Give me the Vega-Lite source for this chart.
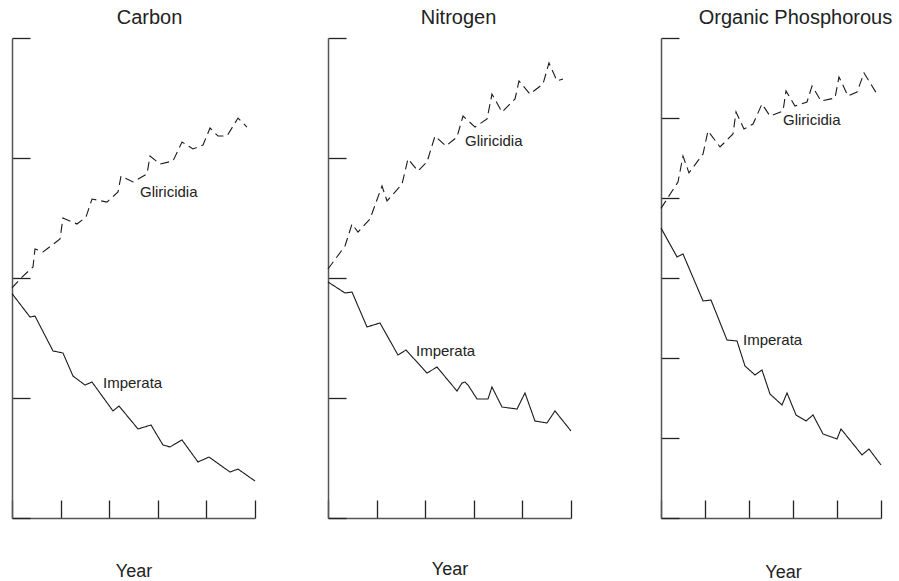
{
  "$schema": "https://vega.github.io/schema/vega-lite/v6.json",
  "background": "white",
  "padding": {"left": 9, "top": 8, "right": 5, "bottom": 5},
  "config": {
    "view": {"stroke": null},
    "font": "Liberation Sans",
    "title": {"fontSize": 20, "fontWeight": "normal", "color": "#222", "baseline": "alphabetic", "offset": 9, "frame": "group", "anchor": "middle"},
    "axis": {"labels": false, "grid": false, "tickSize": -18, "domainColor": "#555", "domainWidth": 1.5, "tickColor": "#222", "tickWidth": 1.3, "titleFontSize": 18, "titleFontWeight": "normal", "titleColor": "#222"}
  },
  "datasets": {
    "series": [
      {"p":"Carbon","s":"Imperata","x":0,"y":1.87},{"p":"Carbon","s":"Imperata","x":0.37,"y":1.675},{"p":"Carbon","s":"Imperata","x":0.473,"y":1.683},{"p":"Carbon","s":"Imperata","x":0.844,"y":1.392},{"p":"Carbon","s":"Imperata","x":1.049,"y":1.375},{"p":"Carbon","s":"Imperata","x":1.255,"y":1.183},{"p":"Carbon","s":"Imperata","x":1.502,"y":1.108},{"p":"Carbon","s":"Imperata","x":1.646,"y":1.133},{"p":"Carbon","s":"Imperata","x":2.078,"y":0.892},{"p":"Carbon","s":"Imperata","x":2.202,"y":0.933},{"p":"Carbon","s":"Imperata","x":2.593,"y":0.742},{"p":"Carbon","s":"Imperata","x":2.86,"y":0.775},{"p":"Carbon","s":"Imperata","x":3.107,"y":0.608},{"p":"Carbon","s":"Imperata","x":3.251,"y":0.592},{"p":"Carbon","s":"Imperata","x":3.498,"y":0.65},{"p":"Carbon","s":"Imperata","x":3.827,"y":0.467},{"p":"Carbon","s":"Imperata","x":4.053,"y":0.508},{"p":"Carbon","s":"Imperata","x":4.486,"y":0.383},{"p":"Carbon","s":"Imperata","x":4.65,"y":0.408},{"p":"Carbon","s":"Imperata","x":5.0,"y":0.308},
      {"p":"Carbon","s":"Gliricidia","x":0,"y":1.917},{"p":"Carbon","s":"Gliricidia","x":0.206,"y":2.008},{"p":"Carbon","s":"Gliricidia","x":0.432,"y":2.092},{"p":"Carbon","s":"Gliricidia","x":0.473,"y":2.242},{"p":"Carbon","s":"Gliricidia","x":0.638,"y":2.217},{"p":"Carbon","s":"Gliricidia","x":0.988,"y":2.325},{"p":"Carbon","s":"Gliricidia","x":1.049,"y":2.5},{"p":"Carbon","s":"Gliricidia","x":1.337,"y":2.45},{"p":"Carbon","s":"Gliricidia","x":1.523,"y":2.508},{"p":"Carbon","s":"Gliricidia","x":1.646,"y":2.658},{"p":"Carbon","s":"Gliricidia","x":1.955,"y":2.633},{"p":"Carbon","s":"Gliricidia","x":2.181,"y":2.717},{"p":"Carbon","s":"Gliricidia","x":2.243,"y":2.85},{"p":"Carbon","s":"Gliricidia","x":2.49,"y":2.8},{"p":"Carbon","s":"Gliricidia","x":2.778,"y":2.867},{"p":"Carbon","s":"Gliricidia","x":2.84,"y":3.017},{"p":"Carbon","s":"Gliricidia","x":3.045,"y":2.95},{"p":"Carbon","s":"Gliricidia","x":3.313,"y":2.975},{"p":"Carbon","s":"Gliricidia","x":3.498,"y":3.133},{"p":"Carbon","s":"Gliricidia","x":3.724,"y":3.075},{"p":"Carbon","s":"Gliricidia","x":3.93,"y":3.108},{"p":"Carbon","s":"Gliricidia","x":4.074,"y":3.25},{"p":"Carbon","s":"Gliricidia","x":4.239,"y":3.183},{"p":"Carbon","s":"Gliricidia","x":4.424,"y":3.183},{"p":"Carbon","s":"Gliricidia","x":4.65,"y":3.333},{"p":"Carbon","s":"Gliricidia","x":4.835,"y":3.258},
      {"p":"Nitrogen","s":"Gliricidia","x":0,"y":2.075},{"p":"Nitrogen","s":"Gliricidia","x":0.35,"y":2.267},{"p":"Nitrogen","s":"Gliricidia","x":0.494,"y":2.45},{"p":"Nitrogen","s":"Gliricidia","x":0.617,"y":2.383},{"p":"Nitrogen","s":"Gliricidia","x":0.864,"y":2.492},{"p":"Nitrogen","s":"Gliricidia","x":1.111,"y":2.767},{"p":"Nitrogen","s":"Gliricidia","x":1.214,"y":2.642},{"p":"Nitrogen","s":"Gliricidia","x":1.523,"y":2.783},{"p":"Nitrogen","s":"Gliricidia","x":1.646,"y":2.992},{"p":"Nitrogen","s":"Gliricidia","x":1.852,"y":2.892},{"p":"Nitrogen","s":"Gliricidia","x":2.037,"y":2.967},{"p":"Nitrogen","s":"Gliricidia","x":2.202,"y":3.183},{"p":"Nitrogen","s":"Gliricidia","x":2.428,"y":3.1},{"p":"Nitrogen","s":"Gliricidia","x":2.654,"y":3.175},{"p":"Nitrogen","s":"Gliricidia","x":2.778,"y":3.35},{"p":"Nitrogen","s":"Gliricidia","x":3.025,"y":3.258},{"p":"Nitrogen","s":"Gliricidia","x":3.272,"y":3.325},{"p":"Nitrogen","s":"Gliricidia","x":3.374,"y":3.533},{"p":"Nitrogen","s":"Gliricidia","x":3.58,"y":3.383},{"p":"Nitrogen","s":"Gliricidia","x":3.848,"y":3.492},{"p":"Nitrogen","s":"Gliricidia","x":3.93,"y":3.642},{"p":"Nitrogen","s":"Gliricidia","x":4.156,"y":3.533},{"p":"Nitrogen","s":"Gliricidia","x":4.424,"y":3.617},{"p":"Nitrogen","s":"Gliricidia","x":4.547,"y":3.792},{"p":"Nitrogen","s":"Gliricidia","x":4.712,"y":3.642},{"p":"Nitrogen","s":"Gliricidia","x":4.835,"y":3.658},
      {"p":"Nitrogen","s":"Imperata","x":0,"y":1.967},{"p":"Nitrogen","s":"Imperata","x":0.35,"y":1.875},{"p":"Nitrogen","s":"Imperata","x":0.494,"y":1.883},{"p":"Nitrogen","s":"Imperata","x":0.802,"y":1.592},{"p":"Nitrogen","s":"Imperata","x":1.07,"y":1.625},{"p":"Nitrogen","s":"Imperata","x":1.44,"y":1.358},{"p":"Nitrogen","s":"Imperata","x":1.605,"y":1.4},{"p":"Nitrogen","s":"Imperata","x":2.037,"y":1.208},{"p":"Nitrogen","s":"Imperata","x":2.243,"y":1.258},{"p":"Nitrogen","s":"Imperata","x":2.654,"y":1.058},{"p":"Nitrogen","s":"Imperata","x":2.757,"y":1.125},{"p":"Nitrogen","s":"Imperata","x":2.819,"y":1.133},{"p":"Nitrogen","s":"Imperata","x":2.881,"y":1.108},{"p":"Nitrogen","s":"Imperata","x":3.066,"y":0.992},{"p":"Nitrogen","s":"Imperata","x":3.292,"y":0.992},{"p":"Nitrogen","s":"Imperata","x":3.374,"y":1.092},{"p":"Nitrogen","s":"Imperata","x":3.58,"y":0.925},{"p":"Nitrogen","s":"Imperata","x":3.889,"y":0.908},{"p":"Nitrogen","s":"Imperata","x":4.053,"y":1.042},{"p":"Nitrogen","s":"Imperata","x":4.259,"y":0.808},{"p":"Nitrogen","s":"Imperata","x":4.506,"y":0.792},{"p":"Nitrogen","s":"Imperata","x":4.671,"y":0.892},{"p":"Nitrogen","s":"Imperata","x":5.0,"y":0.725},
      {"p":"Phos","s":"Gliricidia","x":0,"y":3.87},{"p":"Phos","s":"Gliricidia","x":0.386,"y":4.2},{"p":"Phos","s":"Gliricidia","x":0.5,"y":4.525},{"p":"Phos","s":"Gliricidia","x":0.636,"y":4.313},{"p":"Phos","s":"Gliricidia","x":0.955,"y":4.55},{"p":"Phos","s":"Gliricidia","x":1.068,"y":4.838},{"p":"Phos","s":"Gliricidia","x":1.341,"y":4.638},{"p":"Phos","s":"Gliricidia","x":1.636,"y":4.8},{"p":"Phos","s":"Gliricidia","x":1.705,"y":5.075},{"p":"Phos","s":"Gliricidia","x":1.886,"y":4.863},{"p":"Phos","s":"Gliricidia","x":2.091,"y":4.925},{"p":"Phos","s":"Gliricidia","x":2.295,"y":5.175},{"p":"Phos","s":"Gliricidia","x":2.477,"y":5.025},{"p":"Phos","s":"Gliricidia","x":2.773,"y":5.088},{"p":"Phos","s":"Gliricidia","x":2.841,"y":5.338},{"p":"Phos","s":"Gliricidia","x":3.045,"y":5.15},{"p":"Phos","s":"Gliricidia","x":3.318,"y":5.2},{"p":"Phos","s":"Gliricidia","x":3.432,"y":5.4},{"p":"Phos","s":"Gliricidia","x":3.636,"y":5.213},{"p":"Phos","s":"Gliricidia","x":3.955,"y":5.25},{"p":"Phos","s":"Gliricidia","x":4.045,"y":5.513},{"p":"Phos","s":"Gliricidia","x":4.25,"y":5.275},{"p":"Phos","s":"Gliricidia","x":4.455,"y":5.325},{"p":"Phos","s":"Gliricidia","x":4.614,"y":5.563},{"p":"Phos","s":"Gliricidia","x":4.909,"y":5.3},
      {"p":"Phos","s":"Imperata","x":0,"y":3.625},{"p":"Phos","s":"Imperata","x":0.364,"y":3.263},{"p":"Phos","s":"Imperata","x":0.5,"y":3.3},{"p":"Phos","s":"Imperata","x":0.955,"y":2.713},{"p":"Phos","s":"Imperata","x":1.136,"y":2.725},{"p":"Phos","s":"Imperata","x":1.5,"y":2.225},{"p":"Phos","s":"Imperata","x":1.727,"y":2.213},{"p":"Phos","s":"Imperata","x":1.909,"y":1.9},{"p":"Phos","s":"Imperata","x":2.136,"y":1.788},{"p":"Phos","s":"Imperata","x":2.295,"y":1.85},{"p":"Phos","s":"Imperata","x":2.477,"y":1.55},{"p":"Phos","s":"Imperata","x":2.75,"y":1.413},{"p":"Phos","s":"Imperata","x":2.864,"y":1.563},{"p":"Phos","s":"Imperata","x":3.068,"y":1.288},{"p":"Phos","s":"Imperata","x":3.295,"y":1.213},{"p":"Phos","s":"Imperata","x":3.455,"y":1.288},{"p":"Phos","s":"Imperata","x":3.682,"y":1.05},{"p":"Phos","s":"Imperata","x":4.0,"y":0.988},{"p":"Phos","s":"Imperata","x":4.091,"y":1.113},{"p":"Phos","s":"Imperata","x":4.568,"y":0.788},{"p":"Phos","s":"Imperata","x":4.727,"y":0.863},{"p":"Phos","s":"Imperata","x":5.0,"y":0.663}
    ],
    "labels": [
      {"p":"Carbon","t":"Gliricidia","x":2.634,"y":2.717},
      {"p":"Carbon","t":"Imperata","x":1.872,"y":1.125},
      {"p":"Nitrogen","t":"Gliricidia","x":2.819,"y":3.142},
      {"p":"Nitrogen","t":"Imperata","x":1.811,"y":1.392},
      {"p":"Phos","t":"Gliricidia","x":2.773,"y":4.975},
      {"p":"Phos","t":"Imperata","x":1.864,"y":2.225}
    ]
  },
  "bounds": "flush",
  "spacing": 73,
  "hconcat": [
    {
      "width": 243, "height": 480,
      "title": {"text": "Carbon", "dx": 16},
      "layer": [
        {
          "data": {"name": "series"},
          "transform": [{"filter": "datum.p === 'Carbon'"}],
          "mark": {"type": "line", "color": "#1a1a1a", "strokeWidth": 1.1},
          "encoding": {
            "x": {"field": "x", "type": "quantitative", "scale": {"domain": [0, 5], "nice": false, "zero": false}, "axis": {"title": "Year", "values": [0,1,2,3,4,5], "titleY": 58, "titleBaseline": "alphabetic"}},
            "y": {"field": "y", "type": "quantitative", "scale": {"domain": [0, 4], "nice": false, "zero": false}, "axis": {"title": null, "values": [0,1,2,3,4]}},
            "strokeDash": {"field": "s", "type": "nominal", "scale": {"domain": ["Gliricidia", "Imperata"], "range": [[9, 5], [1, 0]]}, "legend": null}
          }
        },
        {
          "data": {"name": "labels"},
          "transform": [{"filter": "datum.p === 'Carbon'"}],
          "mark": {"type": "text", "align": "left", "baseline": "middle", "fontSize": 15, "color": "#222"},
          "encoding": {
            "x": {"field": "x", "type": "quantitative"},
            "y": {"field": "y", "type": "quantitative"},
            "text": {"field": "t"}
          }
        }
      ]
    },
    {
      "width": 243, "height": 480,
      "title": {"text": "Nitrogen", "dx": 9},
      "layer": [
        {
          "data": {"name": "series"},
          "transform": [{"filter": "datum.p === 'Nitrogen'"}],
          "mark": {"type": "line", "color": "#1a1a1a", "strokeWidth": 1.1},
          "encoding": {
            "x": {"field": "x", "type": "quantitative", "scale": {"domain": [0, 5], "nice": false, "zero": false}, "axis": {"title": "Year", "values": [0,1,2,3,4,5], "titleY": 56, "titleBaseline": "alphabetic"}},
            "y": {"field": "y", "type": "quantitative", "scale": {"domain": [0, 4], "nice": false, "zero": false}, "axis": {"title": null, "values": [0,1,2,3,4]}},
            "strokeDash": {"field": "s", "type": "nominal", "scale": {"domain": ["Gliricidia", "Imperata"], "range": [[9, 5], [1, 0]]}, "legend": null}
          }
        },
        {
          "data": {"name": "labels"},
          "transform": [{"filter": "datum.p === 'Nitrogen'"}],
          "mark": {"type": "text", "align": "left", "baseline": "middle", "fontSize": 15, "color": "#222"},
          "encoding": {
            "x": {"field": "x", "type": "quantitative"},
            "y": {"field": "y", "type": "quantitative"},
            "text": {"field": "t"}
          }
        }
      ]
    },
    {
      "width": 237, "height": 480,
      "title": {"text": "Organic Phosphorous", "dx": 33},
      "layer": [
        {
          "data": {"name": "series"},
          "transform": [{"filter": "datum.p === 'Phos'"}],
          "mark": {"type": "line", "color": "#1a1a1a", "strokeWidth": 1.1},
          "encoding": {
            "x": {"field": "x", "type": "quantitative", "scale": {"domain": [0, 5], "nice": false, "zero": false, "range": [17, 237]}, "axis": {"title": "Year", "values": [0,1,2,3,4,5], "titleY": 59, "titleX": 139, "titleBaseline": "alphabetic"}},
            "y": {"field": "y", "type": "quantitative", "scale": {"domain": [0, 6], "nice": false, "zero": false}, "axis": {"title": null, "values": [0,1,2,3,4,5,6], "offset": -17}},
            "strokeDash": {"field": "s", "type": "nominal", "scale": {"domain": ["Gliricidia", "Imperata"], "range": [[9, 5], [1, 0]]}, "legend": null}
          }
        },
        {
          "data": {"name": "labels"},
          "transform": [{"filter": "datum.p === 'Phos'"}],
          "mark": {"type": "text", "align": "left", "baseline": "middle", "fontSize": 15, "color": "#222"},
          "encoding": {
            "x": {"field": "x", "type": "quantitative"},
            "y": {"field": "y", "type": "quantitative"},
            "text": {"field": "t"}
          }
        }
      ]
    }
  ]
}
